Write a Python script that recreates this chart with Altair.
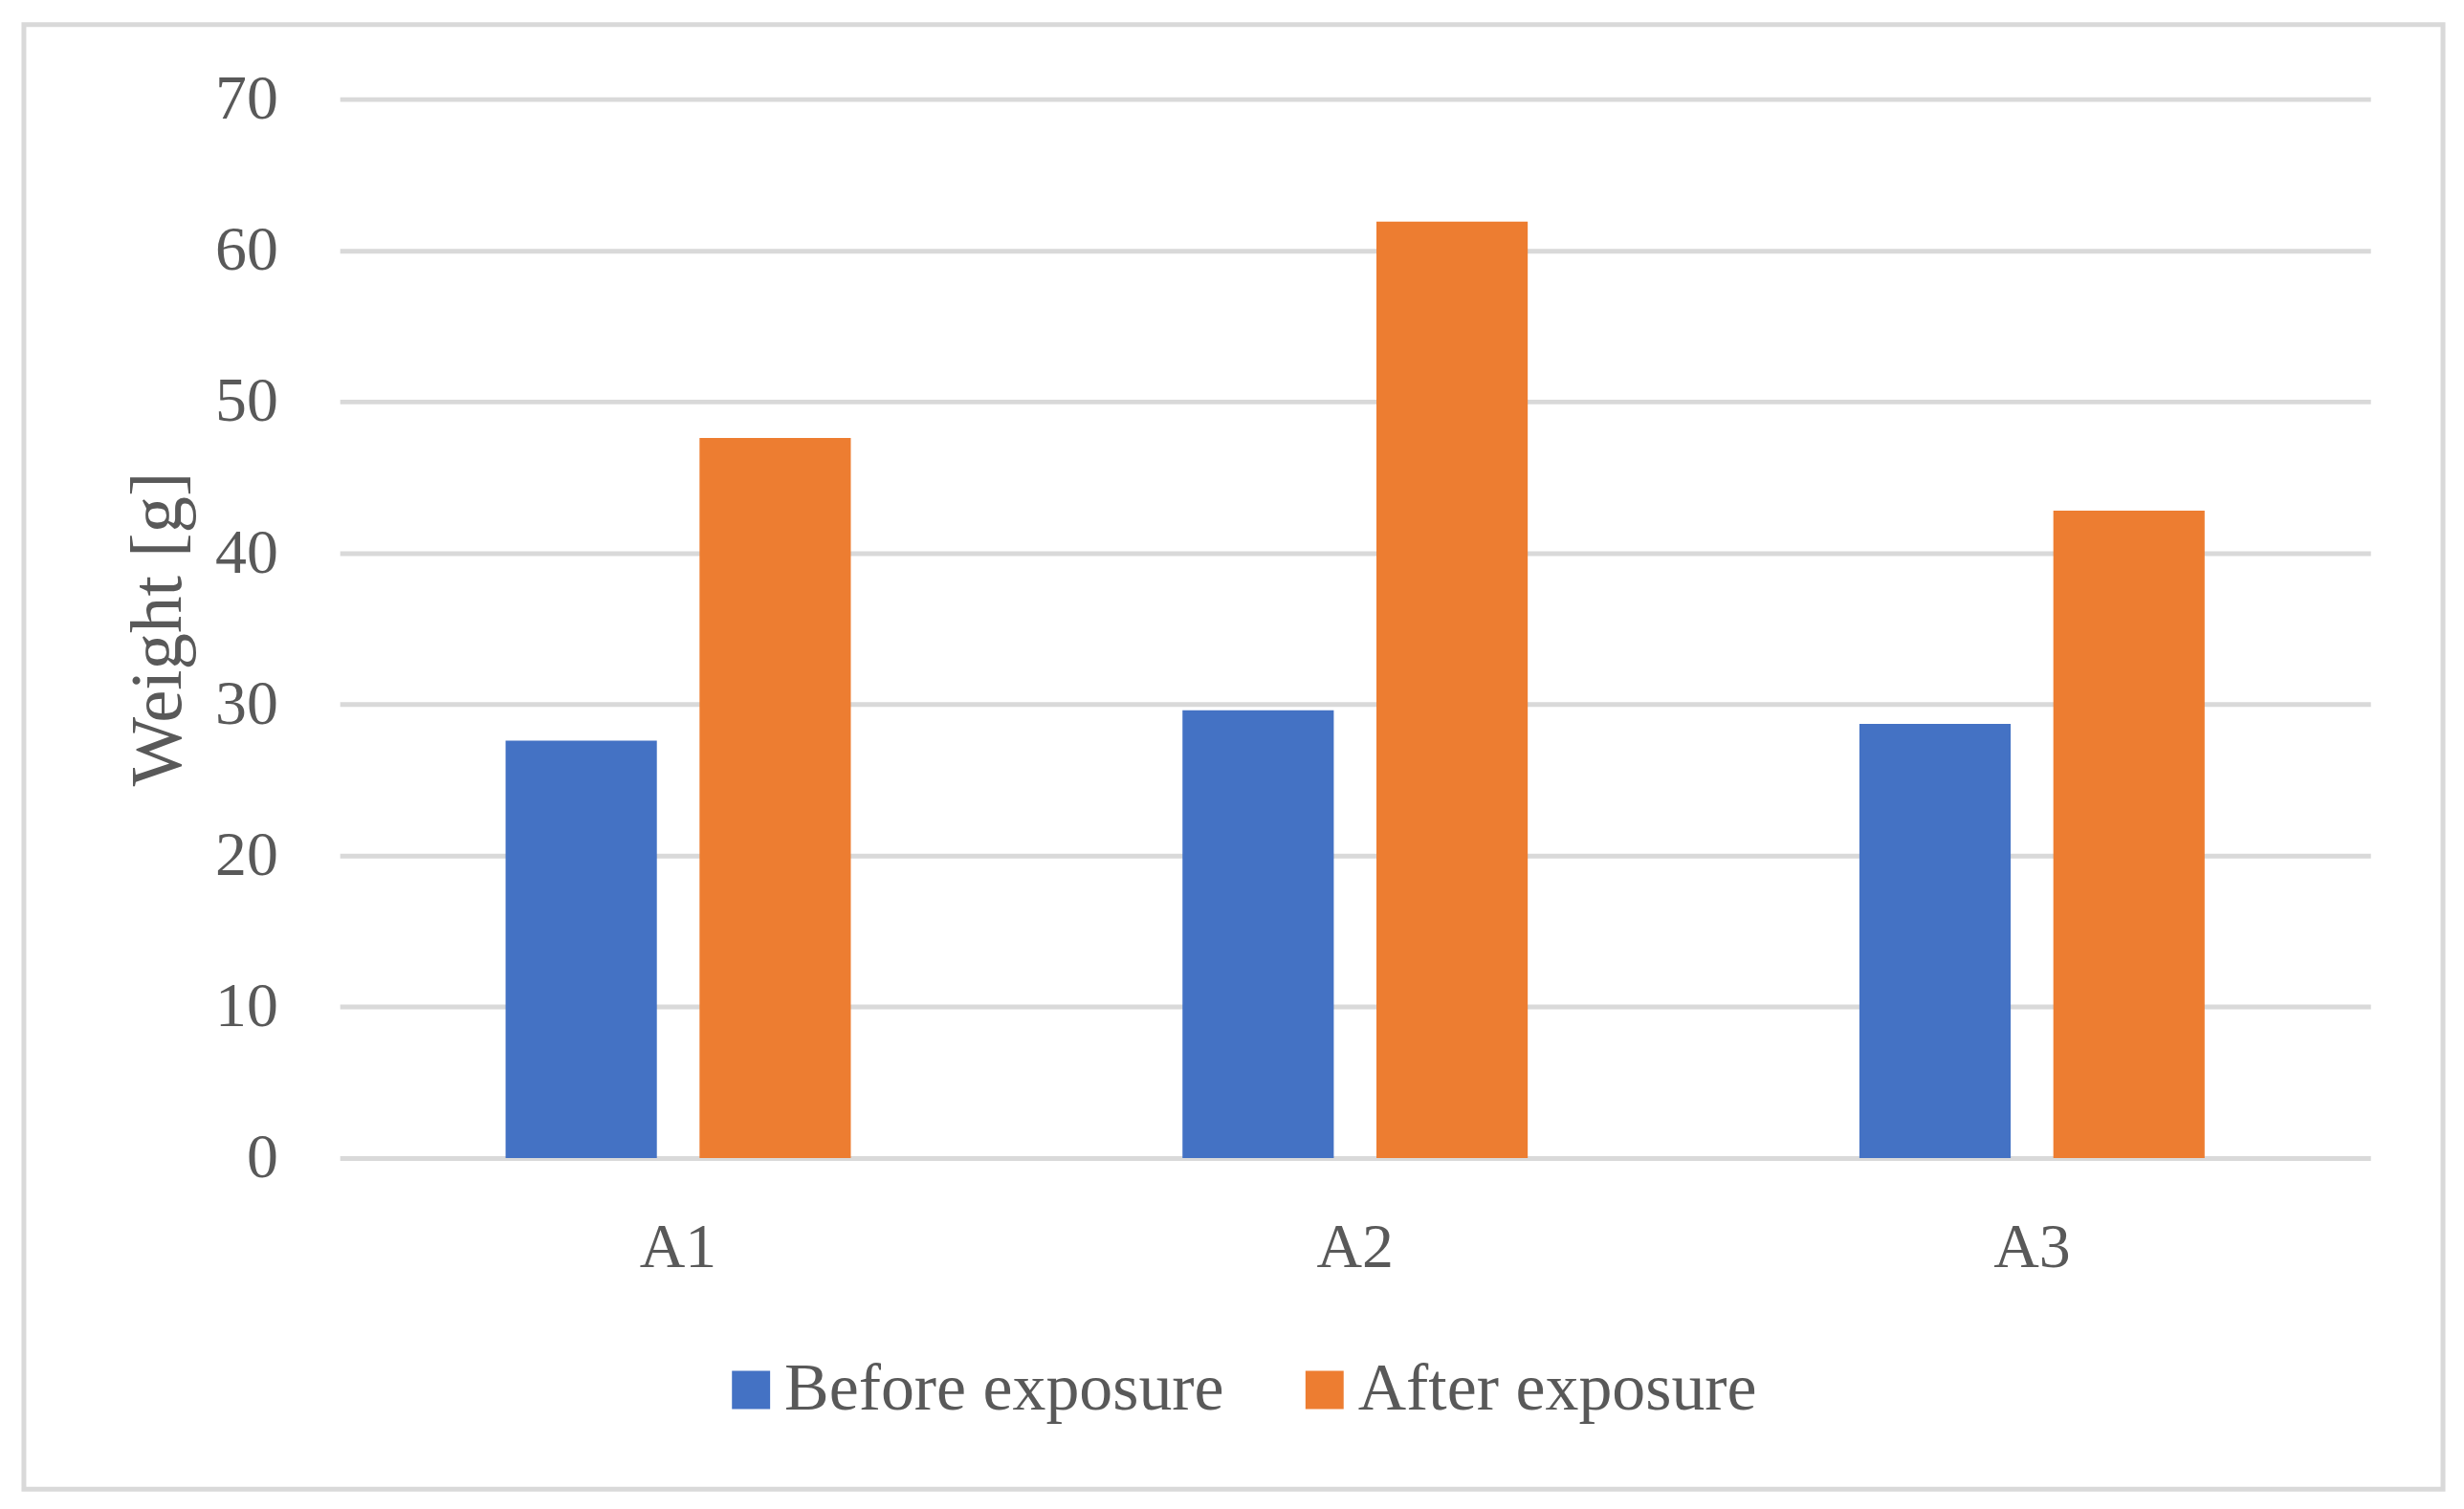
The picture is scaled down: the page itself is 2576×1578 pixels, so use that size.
import altair as alt
import pandas as pd

categories = ["A1", "A2", "A3"]
series = ["Before exposure", "After exposure"]
before = [27.6, 29.6, 28.7]
after = [47.6, 61.9, 42.8]
y_ticks = [0, 10, 20, 30, 40, 50, 60, 70]
colors = ["#4472C4", "#ED7D31"]

rows = []
for c, b, a in zip(categories, before, after):
    rows.append({"cat": c, "series": series[0], "value": b})
    rows.append({"cat": c, "series": series[1], "value": a})
df = pd.DataFrame(rows)

FONT = "Liberation Serif"
TXT = "#595959"
GRID = "#d9d9d9"

bars = alt.Chart(df).mark_bar().encode(
    x=alt.X("cat:N", sort=categories,
            scale=alt.Scale(paddingInner=0.49, paddingOuter=0.245),
            axis=alt.Axis(title=None, labelAngle=0, labelFontSize=66, labelFont=FONT,
                          labelColor=TXT, labelPadding=62, ticks=False, domain=False,
                          grid=False, labelBaseline="top")),
    xOffset=alt.XOffset("series:N", sort=series,
                        scale=alt.Scale(paddingInner=0.22, paddingOuter=0)),
    y=alt.Y("value:Q", scale=alt.Scale(domain=[0, 70], nice=False),
            axis=alt.Axis(values=y_ticks, title="Weight [g]", titleFont=FONT,
                          titleFontSize=77, titleFontWeight="normal", titleColor=TXT,
                          titleAngle=270, titleX=-190, titleY=555, titleAlign="center",
                          titleBaseline="middle",
                          labelFont=FONT, labelFontSize=66, labelColor=TXT,
                          labelPadding=65, ticks=False, domain=False,
                          gridColor=GRID, gridWidth=5)),
    color=alt.Color("series:N", sort=series,
                    scale=alt.Scale(domain=series, range=colors),
                    legend=alt.Legend(title=None, orient="none", direction="horizontal",
                                      legendX=396, legendY=1318,
                                      symbolType="square", symbolSize=1600,
                                      symbolStrokeWidth=0, labelFont=FONT,
                                      labelFontSize=70, labelColor=TXT,
                                      labelOffset=0, columnPadding=70,
                                      labelLimit=1000)),
)

frame = alt.Chart(pd.DataFrame({"k": [0]})).mark_rect(
    fill="transparent", stroke=GRID, strokeWidth=5, clip=False
).encode(
    x=alt.value(-331), x2=alt.value(2204), y=alt.value(-78), y2=alt.value(1457)
)

chart = alt.layer(frame, bars).properties(
    width=2128, height=1110,
    background="white",
    autosize=alt.AutoSizeParams(type="none"),
    padding={"left": 348, "top": 94, "right": 90, "bottom": 370},
).configure_view(strokeWidth=0, stroke="transparent")

chart.save("out.html", embed_options={"renderer": "svg", "actions": False})
